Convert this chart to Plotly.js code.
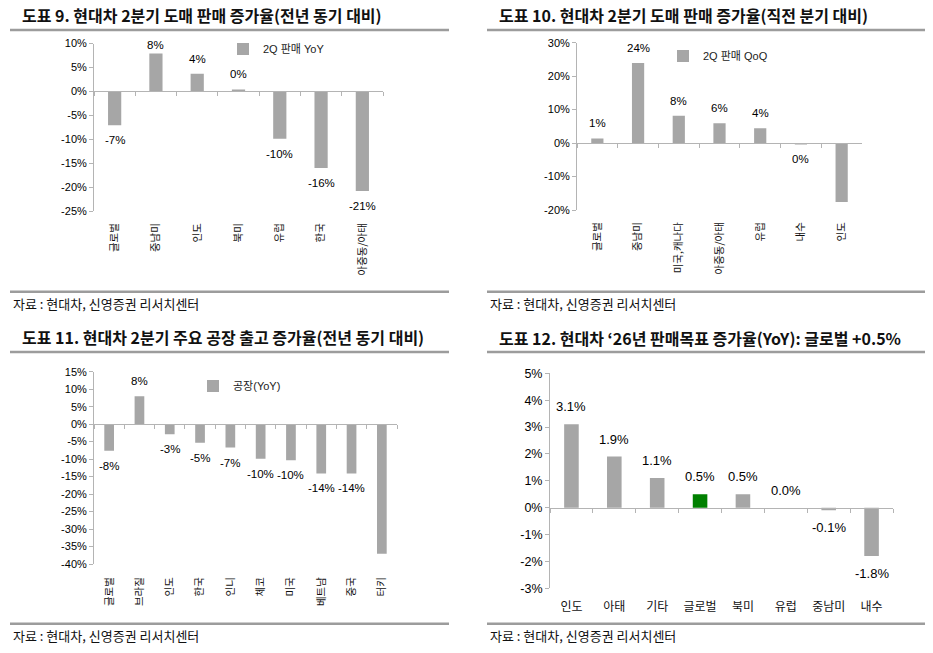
<!DOCTYPE html>
<html>
<head>
<meta charset="utf-8">
<script src="https://cdn.plot.ly/plotly-3.0.1.min.js"></script>
<style>body{margin:0;background:#fff}</style>
</head>
<body>
<div id="myDiv" style="width:933px;height:653px"></div>
<script>
// 도표 9: 2Q 도매 판매 YoY
var cats9 = ['글로벌', '중남미', '인도', '북미', '유럽', '한국', '아중동/아태'];
var yoy9 = [-7.1, 7.9, 3.7, 0.4, -9.9, -16.0, -20.8];
var ticks9 = [10, 5, 0, -5, -10, -15, -20, -25];

// 도표 10: 2Q 도매 판매 QoQ
var cats10 = ['글로벌', '중남미', '미국,캐나다', '아중동/아태', '유럽', '내수', '인도'];
var qoq10 = [1.4, 23.9, 8.2, 5.9, 4.4, -0.4, -17.6];
var ticks10 = [30, 20, 10, 0, -10, -20];

// 도표 11: 공장 출고 YoY
var cats11 = ['글로벌', '브라질', '인도', '한국', '인니', '체코', '미국', '베트남', '중국', '터키'];
var plant11 = [-7.6, 8.0, -2.9, -5.3, -6.7, -9.9, -10.3, -14.1, -14.1, -37.1];
var ticks11 = [15, 10, 5, 0, -5, -10, -15, -20, -25, -30, -35, -40];

// 도표 12: '26년 판매목표 증가율
var cats12 = ['인도', '아태', '기타', '글로벌', '북미', '유럽', '중남미', '내수'];
var target12 = [3.1, 1.9, 1.1, 0.5, 0.5, 0.0, -0.1, -1.8];
var ticks12 = [5, 4, 3, 2, 1, 0, -1, -2, -3];

var W = 933, H = 653;
function fx(p) { return p / W; }
function fy(p) { return 1 - p / H; }

var barGray = '#a6a6a6';
var axisGray = '#b4b4b4';
var ruleGray = '#9c9c9c';
var latin = "'Liberation Sans', 'Noto Sans CJK KR', sans-serif";
var kr = "'Noto Sans CJK KR', sans-serif";

function round0(v) { return Math.round(v) + '%'; }
function fix1(v) { return v.toFixed(1) + '%'; }

var panels = [
  {cats: cats9, vals: yoy9, ticks: ticks9, name: '2Q 판매 YoY', fmt: round0,
   left: 94, right: 383, top: 43.5, bottom: 211, width: 0.32, angle: -90, xsize: 10.5,
   ysize: 11, lsize: 11.5, off: 15, standoff: 9, legend: [223, 49],
   title: '도표 9. 현대차 2분기 도매 판매 증가율(전년 동기 대비)', tx: 20, ty: 15.5,
   ruleL: 10, ruleR: 449, ruleT: 30, ruleB: 291.7, srcY: 303},
  {cats: cats10, vals: qoq10, ticks: ticks10, name: '2Q 판매 QoQ', fmt: round0,
   left: 577, right: 862, top: 42.7, bottom: 210, width: 0.30, angle: -90, xsize: 10.5,
   ysize: 11, lsize: 11.5, off: 15, standoff: 9, legend: [663, 56],
   title: '도표 10. 현대차 2분기 도매 판매 증가율(직전 분기 대비)', tx: 497, ty: 15.5,
   ruleL: 487, ruleR: 925, ruleT: 30, ruleB: 291.7, srcY: 303},
  {cats: cats11, vals: plant11, ticks: ticks11, name: '공장(YoY)', fmt: round0,
   left: 94, right: 397, top: 371.7, bottom: 564, width: 0.32, angle: -90, xsize: 10.5,
   ysize: 11, lsize: 11.5, off: 15, standoff: 10, legend: [193, 386],
   title: '도표 11. 현대차 2분기 주요 공장 출고 증가율(전년 동기 대비)', tx: 20, ty: 337,
   ruleL: 10, ruleR: 449, ruleT: 352, ruleB: 623.7, srcY: 635},
  {cats: cats12, vals: target12, ticks: ticks12, name: '판매목표', fmt: fix1,
   left: 550, right: 893, top: 373.3, bottom: 588.3, width: 0.34, angle: 0, xsize: 12,
   ysize: 12.5, lsize: 13, off: 17.5, standoff: 10, legend: null,
   title: '도표 12. 현대차 ‘26년 판매목표 증가율(YoY): 글로벌 +0.5%', tx: 497, ty: 338,
   ruleL: 487, ruleR: 925, ruleT: 352, ruleB: 623.7, srcY: 635}
];

var data = [];
var layout = {
  width: W, height: H,
  margin: {l: 0, r: 0, t: 0, b: 0},
  paper_bgcolor: '#ffffff',
  plot_bgcolor: 'rgba(0,0,0,0)',
  font: {family: latin, color: '#000'},
  showlegend: true,
  annotations: [],
  shapes: []
};

panels.forEach(function (p, i) {
  var n = i + 1;
  var sx = n === 1 ? '' : String(n);
  var ov = String(n + 4);
  var ymin = p.ticks[p.ticks.length - 1], ymax = p.ticks[0];
  var ppu = (p.bottom - p.top) / (ymax - ymin);
  var zeroPx = p.top + ymax * ppu;
  var range = [-0.5, p.cats.length - 0.5];
  var legendId = n === 1 ? 'legend' : 'legend' + n;

  var colors = p.cats.map(function (c) {
    return (n === 4 && c === '글로벌') ? '#008000' : barGray;
  });

  data.push({
    type: 'bar', x: p.cats, y: p.vals, name: p.name,
    xaxis: 'x' + sx, yaxis: 'y' + sx,
    marker: {color: colors, line: {width: 0}},
    width: p.width,
    showlegend: p.legend !== null,
    legend: legendId,
    hoverinfo: 'skip'
  });
  // invisible copy so the zero-crossing axis gets its category ticks
  data.push({
    type: 'scatter', mode: 'markers', x: p.cats, y: p.vals,
    xaxis: 'x' + ov, yaxis: 'y' + sx,
    marker: {opacity: 0}, showlegend: false, hoverinfo: 'skip'
  });

  layout['xaxis' + sx] = {
    domain: [fx(p.left), fx(p.right)], anchor: 'y' + sx,
    type: 'category', categoryorder: 'array', categoryarray: p.cats,
    range: range, showline: false, showgrid: false, zeroline: false,
    ticks: '', tickangle: p.angle, ticklabelstandoff: p.standoff,
    tickfont: {size: p.xsize, family: kr, color: '#111'}
  };
  layout['xaxis' + ov] = {
    overlaying: 'x' + sx, anchor: 'free', position: fy(zeroPx),
    type: 'category', categoryorder: 'array', categoryarray: p.cats,
    range: range, showticklabels: false, showgrid: false, zeroline: false,
    showline: true, linecolor: axisGray, linewidth: 1,
    ticks: 'outside', ticklen: 4, tickcolor: axisGray, tickson: 'boundaries'
  };
  layout['yaxis' + sx] = {
    domain: [fy(p.bottom), fy(p.top)], anchor: 'x' + sx,
    range: [ymin, ymax], showgrid: false, zeroline: false,
    showline: true, linecolor: axisGray, linewidth: 1,
    ticks: 'outside', ticklen: 4, tickcolor: axisGray,
    tickmode: 'array', tickvals: p.ticks,
    ticktext: p.ticks.map(function (v) { return v + '%'; }),
    tickfont: {size: p.ysize, family: latin, color: '#000'}
  };

  if (p.legend) {
    layout[legendId] = {
      x: fx(p.legend[0]), y: fy(p.legend[1]), xanchor: 'left', yanchor: 'middle',
      bgcolor: 'rgba(0,0,0,0)', borderwidth: 0,
      font: {size: 11, family: latin, color: '#222'}
    };
  }

  // data labels
  p.cats.forEach(function (c, k) {
    var v = p.vals[k];
    var s = v < 0 ? -1 : 1;
    var ly = v + s * p.off / ppu;
    ly = Math.min(ly, ymax - 1.5 / ppu);
    layout.annotations.push({
      xref: 'x' + sx, yref: 'y' + sx, x: c, y: ly,
      text: p.fmt(v), showarrow: false, xanchor: 'center', yanchor: 'middle',
      font: {size: p.lsize, family: latin, color: '#000'}
    });
  });

  // title, source
  layout.annotations.push({
    xref: 'paper', yref: 'paper', x: fx(p.tx), y: fy(p.ty),
    xanchor: 'left', yanchor: 'middle', showarrow: false, text: p.title,
    font: {size: 16, family: kr, weight: 'bold', color: '#111'}
  });
  layout.annotations.push({
    xref: 'paper', yref: 'paper', x: fx(p.ruleL + 1), y: fy(p.srcY),
    xanchor: 'left', yanchor: 'middle', showarrow: false,
    text: '자료 : 현대차, 신영증권 리서치센터',
    font: {size: 13, family: kr, color: '#111'}
  });

  // rules under title and above source
  [p.ruleT, p.ruleB].forEach(function (ry) {
    layout.shapes.push({
      type: 'line', xref: 'paper', yref: 'paper',
      x0: fx(p.ruleL), x1: fx(p.ruleR), y0: fy(ry), y1: fy(ry),
      line: {color: ruleGray, width: 2.5}
    });
  });
});

var config = {displayModeBar: false, staticPlot: true};

Plotly.newPlot('myDiv', data, layout, config);
</script>
</body>
</html>
